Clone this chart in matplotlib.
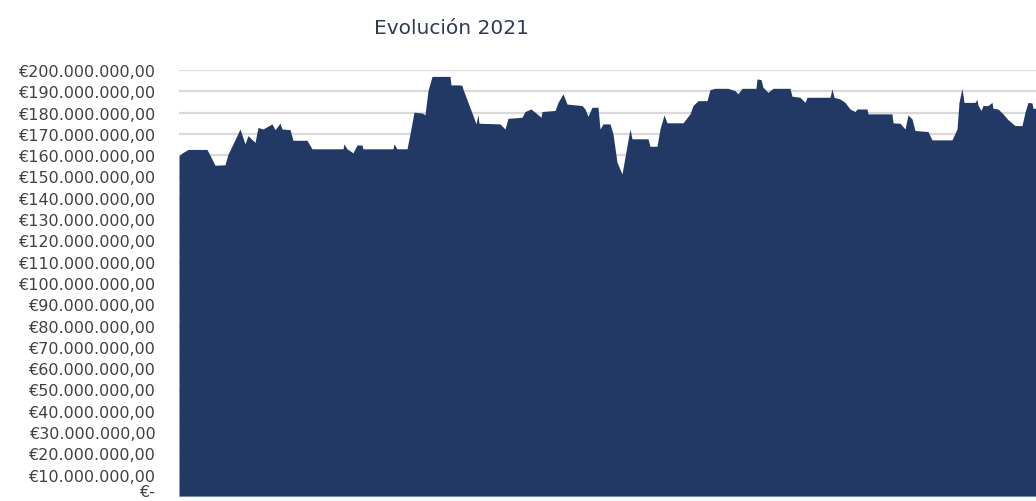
import numpy as np
import matplotlib
matplotlib.use("Agg")
import matplotlib.pyplot as plt
from matplotlib.ticker import MultipleLocator, FuncFormatter

# evolucion del patrimonio 2021 (millones de euros)
dias = [0, 3, 9, 16, 28, 31, 36, 46, 49, 54,
        61, 66, 69, 76, 79, 84, 93, 96, 101, 103,
        111, 114, 128, 133, 141,
        151, 164, 165, 168, 174, 178, 183, 184, 214, 215,
        218, 228, 231, 235, 243, 246, 249, 253, 271, 272,
        281,
        283, 284, 289, 294, 297, 299, 300, 321, 326, 329,
        343, 346, 352, 358, 362, 363, 376, 379, 384, 388,
        403, 406, 409, 413, 419,
        421, 424, 431, 434, 438, 443, 448, 451, 453, 469,
        471, 478, 481, 485, 488, 504, 511, 514, 519, 528,
        531, 536, 549,
        556, 559, 563, 577, 578, 582, 584, 589, 594, 611,
        613, 621, 626, 628, 651, 653, 655, 661, 666, 671,
        676, 678, 688, 689,
        696, 713, 714, 721, 726, 729, 733, 736, 749, 753,
        773, 778, 780, 783, 785, 796, 798, 799, 802, 804,
        809, 813, 814, 819, 824, 829, 836, 843, 846, 849,
        853, 854, 857]
valores = [159.8, 161.0, 162.7, 162.7, 162.7, 160.0, 155.3, 155.5, 160.5, 165.3,
           172.3, 165.3, 169.2, 166.0, 173.0, 172.3, 174.7, 172.0, 175.0, 172.3,
           172.0, 167.0, 167.0, 163.0, 163.0,
           163.0, 163.0, 165.3, 163.0, 161.1, 164.8, 164.8, 163.0, 163.0, 165.3,
           163.0, 163.0, 170.0, 180.2, 179.8, 179.0, 190.3, 197.0, 197.0, 193.0,
           193.0,
           192.7, 191.0, 184.8, 178.6, 174.7, 179.0, 175.0, 174.7, 172.3, 177.3,
           177.8, 180.5, 181.7, 179.4, 177.8, 180.5, 181.0, 184.8, 188.8, 184.0,
           183.3, 181.7, 178.3, 182.5, 182.5,
           172.3, 174.7, 174.7, 170.0, 156.7, 151.2, 164.5, 172.3, 167.7, 167.7,
           164.2, 164.2, 172.3, 178.9, 175.2, 175.2, 179.4, 183.3, 185.6, 185.6,
           190.8, 191.4, 191.4,
           190.3, 188.8, 191.4, 191.4, 195.8, 195.5, 191.9, 189.5, 191.4, 191.4,
           187.7, 187.2, 184.8, 187.2, 187.2, 191.1, 187.2, 186.4, 184.8, 181.7,
           180.5, 181.7, 181.7, 179.4,
           179.4, 179.4, 175.2, 175.0, 172.3, 178.9, 177.0, 171.6, 171.1, 167.2,
           167.2, 172.3, 184.8, 191.4, 184.8, 184.8, 186.1, 183.5, 181.0, 183.3,
           183.3, 184.8, 182.0, 181.7, 179.4, 176.7, 173.9, 173.9, 180.2, 184.8,
           184.5, 182.0, 182.0]

titulo = "Evolución 2021"

x = np.array(dias)
y = np.array(valores) * 1e6


def euros(v, pos):
    if v == 0:
        return "€-"
    s = f"{v:,.2f}"
    s = s.replace(",", "X").replace(".", ",").replace("X", ".")
    return "€" + s


fig = plt.figure(figsize=(10.36, 5.02), dpi=100)
ax = fig.add_axes([179 / 1036, 5 / 502, 1 - 179 / 1036, 426 / 502])

ax.fill_between(x, 0, y, color="#213964", linewidth=0, zorder=3)

ax.set_xlim(0, 857)
ax.set_ylim(0, 200e6)
ax.yaxis.set_major_locator(MultipleLocator(10e6))
ax.yaxis.set_major_formatter(FuncFormatter(euros))
ax.grid(axis="y", color="#d9d9d9", linewidth=1.6, zorder=0)
ax.set_axisbelow(True)

for s in ["top", "right", "left"]:
    ax.spines[s].set_visible(False)
ax.spines["bottom"].set_color("#d9d9d9")
ax.set_xticks([])
ax.tick_params(axis="y", length=0, pad=17, labelsize=11.5, labelcolor="#404040")

fig.text(451 / 1036, 1 - 28 / 502, titulo, ha="center", va="center",
         fontsize=14.5, color="#2f3b55")

# el "€-" de abajo se sube un poco para que no quede cortado
fig.canvas.draw()
for t in ax.yaxis.get_major_ticks():
    if t.label1.get_text() == "€-":
        t.label1.set_va("baseline")

fig.savefig("out.png", dpi=100)
